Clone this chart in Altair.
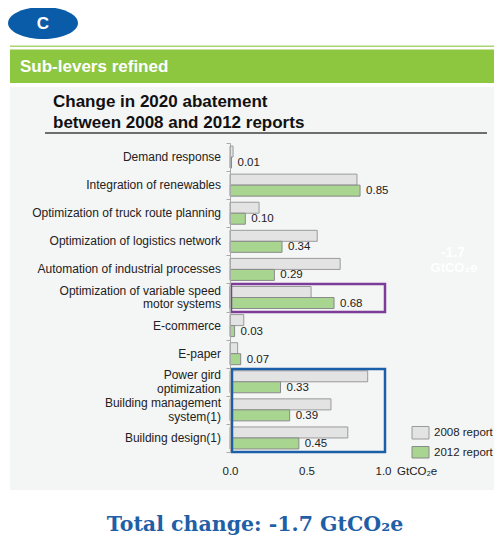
import altair as alt
import pandas as pd

categories = [
    "Demand response",
    "Integration of renewables",
    "Optimization of truck route planning",
    "Optimization of logistics network",
    "Automation of industrial processes",
    "Optimization of variable speed|motor systems",
    "E-commerce",
    "E-paper",
    "Power gird|optimization",
    "Building management|system(1)",
    "Building design(1)",
]
report_2008 = [0.02, 0.83, 0.19, 0.57, 0.72, 0.53, 0.09, 0.05, 0.90, 0.66, 0.77]
report_2012 = [0.01, 0.85, 0.10, 0.34, 0.29, 0.68, 0.03, 0.07, 0.33, 0.39, 0.45]
x_ticks = [0.0, 0.5, 1.0]
legend_labels = ["2008 report", "2012 report"]

FONT = "Liberation Sans"
GRAY_FILL = "#e3e3e3"
GREEN_FILL = "#a8d58f"
BLUE = "#1a5fa8"
PURPLE = "#7d3c98"

df = pd.DataFrame({"cat": categories, "v2008": report_2008, "v2012": report_2012})
df["lbl"] = [f"{v:.2f}" for v in report_2012]

W, H = 153, 309  # plot area
TOTAL_W, TOTAL_H = 486, 528
PAD = {"left": 222, "top": 135, "right": TOTAL_W - 222 - W, "bottom": TOTAL_H - 135 - H}

xs = alt.Scale(domain=[0, 1], range=[0, W])
ys = alt.Scale(domain=categories, paddingInner=0, paddingOuter=0)

base = alt.Chart(df)

bars08 = base.mark_bar(size=11, yOffset=-5.5, fill=GRAY_FILL, stroke="#9a9a9a", strokeWidth=1).encode(
    x=alt.X("v2008:Q", scale=xs,
            axis=alt.Axis(values=x_ticks, format=".1f", title=None, domain=False, ticks=False,
                          grid=False, labelPadding=13, labelFontSize=11.5, labelFont=FONT,
                          labelColor="#222", labelFlush=False, zindex=2)),
    y=alt.Y("cat:N", scale=ys, sort=categories,
            axis=alt.Axis(title=None, labels=False, tickBand="extent", tickSize=4,
                          tickColor="#aaaaaa", domainColor="#aaaaaa", grid=False, zindex=2)),
)
bars12 = base.mark_bar(size=11, yOffset=5.5, fill=GREEN_FILL, stroke="#8a8a8a", strokeWidth=1).encode(
    x=alt.X("v2012:Q", scale=xs),
    y=alt.Y("cat:N", scale=ys, sort=categories),
)
vals = base.mark_text(align="left", baseline="middle", dx=6, yOffset=6, fontSize=11.5, font=FONT,
                      color="#222").encode(
    x=alt.X("v2012:Q", scale=xs), y=alt.Y("cat:N", scale=ys, sort=categories), text="lbl:N")
ylabels1 = base.transform_filter("indexof(datum.cat, '|') < 0").mark_text(
    align="right", baseline="middle", fontSize=12, font=FONT, color="#222").encode(
    x=alt.value(-9), y=alt.Y("cat:N", scale=ys, sort=categories), text="cat:N")
ylabels2 = base.transform_filter("indexof(datum.cat, '|') >= 0").mark_text(
    align="right", baseline="middle", fontSize=12, font=FONT, color="#222",
    lineBreak="|", lineHeight=13.5, dy=-6.75).encode(
    x=alt.value(-9), y=alt.Y("cat:N", scale=ys, sort=categories), text="cat:N")

one = alt.Chart(pd.DataFrame({"a": [0]}))

def rect(x, x2, y, y2, **kw):
    return one.mark_rect(**kw).encode(x=alt.value(x), x2=alt.value(x2), y=alt.value(y), y2=alt.value(y2))

def txt(x, y, s, **kw):
    return one.mark_text(**kw).encode(x=alt.value(x), y=alt.value(y), text=alt.value(s))

# page coords -> plot coords: subtract (230, 143)
OX, OY = 230, 143
panel = rect(10 - OX, 502 - OX, 87 - OY, 490 - OY, fill="#f4f5f5")
green_line = rect(10 - OX, 502 - OX, 45.5 - OY, 47 - OY, fill="#a9d470")
green_band = rect(10 - OX, 502 - OX, 49.5 - OY, 83 - OY, fill="#8dc63f")
band_text = txt(20 - OX, 66.5 - OY, "Sub-levers refined", align="left", baseline="middle",
                font=FONT, fontSize=17, fontWeight="bold", color="white")
ellipse = one.mark_point(
    shape="M -1 0 A 1 0.457 0 1 0 1 0 A 1 0.457 0 1 0 -1 0 Z",
    size=4900, filled=True, fill="#0a5ca8", opacity=1, strokeWidth=0,
).encode(x=alt.value(43 - OX), y=alt.value(23 - OY))
c_text = txt(43 - OX, 23.5 - OY, "C", align="center", baseline="middle", font=FONT,
             fontSize=17, fontWeight="bold", color="white")
title1 = txt(53 - OX, 101.5 - OY, "Change in 2020 abatement", align="left", baseline="middle",
             font=FONT, fontSize=17, fontWeight="bold", color="#111")
title2 = txt(53 - OX, 123 - OY, "between 2008 and 2012 reports", align="left", baseline="middle",
             font=FONT, fontSize=17, fontWeight="bold", color="#111")
underline = rect(45 - OX, 487 - OX, 132 - OY, 134 - OY, fill="#6e6e6e")
purple_box = rect(231 - OX, 385 - OX, 284 - OY, 312 - OY, fill="transparent", stroke=PURPLE,
                  strokeWidth=2.5)
blue_box = rect(232 - OX, 385 - OX, 369 - OY, 452 - OY, fill="transparent", stroke=BLUE,
                strokeWidth=2.5)
LX = 412
leg_box1 = rect(LX - OX, LX + 17 - OX, 426.5 - OY, 439 - OY, fill=GRAY_FILL, stroke="#9a9a9a",
                strokeWidth=1)
leg_box2 = rect(LX - OX, LX + 17 - OX, 446.5 - OY, 458 - OY, fill=GREEN_FILL, stroke="#8a8a8a",
                strokeWidth=1)
leg_t1 = txt(LX + 22 - OX, 433 - OY, legend_labels[0], align="left", baseline="middle", font=FONT,
             fontSize=11.5, color="#222")
leg_t2 = txt(LX + 22 - OX, 453 - OY, legend_labels[1], align="left", baseline="middle", font=FONT,
             fontSize=11.5, color="#222")
unit = txt(397 - OX, 471.5 - OY, "GtCO₂e", align="left", baseline="middle", font=FONT,
           fontSize=11.5, color="#222")
ghost1 = txt(453 - OX, 253 - OY, "-1.7", align="center", baseline="middle", font=FONT,
             fontSize=14, fontWeight="bold", color="white")
ghost2 = txt(454 - OX, 268 - OY, "GtCO₂e", align="center", baseline="middle", font=FONT,
             fontSize=13, fontWeight="bold", color="white")
total = txt(255 - OX, 531 - OY, "Total change:  -1.7 GtCO₂e", align="center",
            baseline="alphabetic", font="DejaVu Serif", fontSize=20.5, fontWeight="bold",
            color="#1f5fa6")

chart = alt.layer(
    panel, green_line, green_band, band_text, ellipse, c_text, title1, title2, underline,
    bars08, bars12, vals, ylabels1, ylabels2, purple_box, blue_box,
    leg_box1, leg_box2, leg_t1, leg_t2, unit, ghost1, ghost2, total,
).properties(
    width=W, height=H, padding=PAD, autosize=alt.AutoSizeParams(type="none"),
    background="white",
).configure_view(stroke=None)

chart.save("out.html", embed_options={"renderer": "svg", "actions": False})
